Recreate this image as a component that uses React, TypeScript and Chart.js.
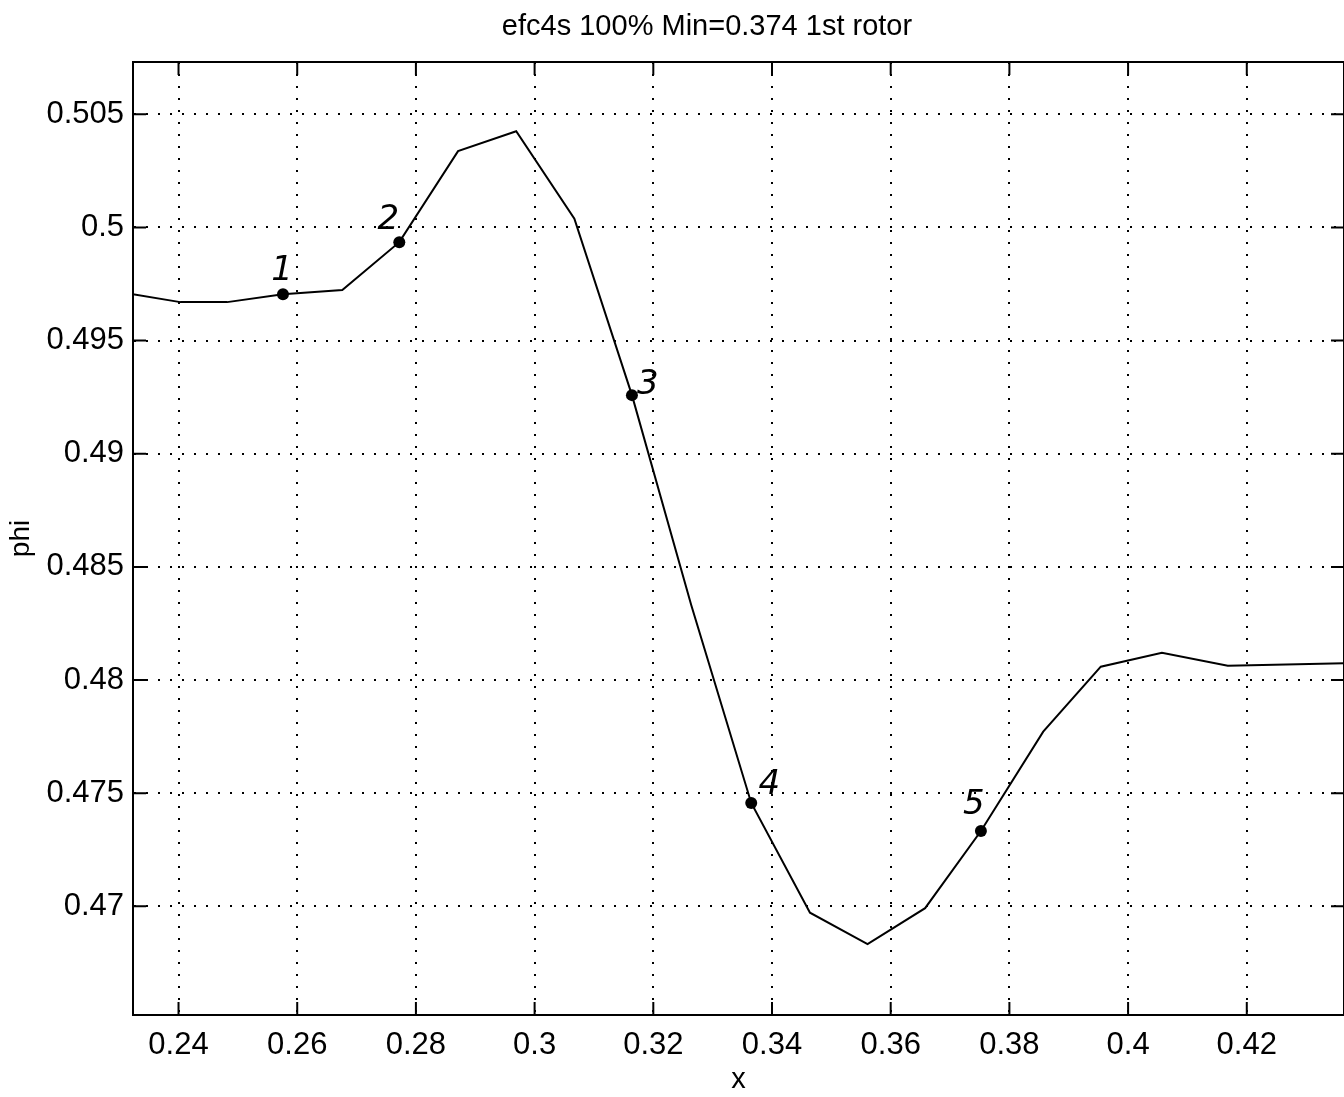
import { useEffect, useRef } from "react";
import { Chart, registerables } from "chart.js";

Chart.register(...registerables);

// ---- data ----
const xValues = [
  0.2323, 0.2403, 0.2482, 0.2576, 0.2676, 0.2772, 0.2871, 0.2969, 0.3067,
  0.3164, 0.3264, 0.3365, 0.3464, 0.3561, 0.3658, 0.3752, 0.3857, 0.3954,
  0.4057, 0.4168, 0.4364,
];
const phiValues = [
  0.49705, 0.4967, 0.4967, 0.49705, 0.49723, 0.49935, 0.50337, 0.50425,
  0.50039, 0.49259, 0.48331, 0.47457, 0.46972, 0.46833, 0.46992, 0.47333,
  0.47772, 0.48059, 0.48121, 0.48063, 0.48074,
];
const markerX = [0.2576, 0.2772, 0.3164, 0.3365, 0.3752];
const markerPhi = [0.49705, 0.49935, 0.49259, 0.47457, 0.47333];
const markerLabels = ["1", "2", "3", "4", "5"];

const xTickValues = [0.24, 0.26, 0.28, 0.3, 0.32, 0.34, 0.36, 0.38, 0.4, 0.42];
const xTickLabels = ["0.24", "0.26", "0.28", "0.3", "0.32", "0.34", "0.36", "0.38", "0.4", "0.42"];
const yTickValues = [0.47, 0.475, 0.48, 0.485, 0.49, 0.495, 0.5, 0.505];
const yTickLabels = ["0.47", "0.475", "0.48", "0.485", "0.49", "0.495", "0.5", "0.505"];

const xMin = 0.23233;
const xMax = 0.43638;
const yMin = 0.4652;
const yMax = 0.50731;

const titleText = "efc4s 100% Min=0.374 1st rotor";
const xAxisTitle = "x";
const yAxisTitle = "phi";

// ---- styling ----
const FONT = '"Liberation Sans", Arial, Helvetica, sans-serif';
const LABEL_OFFSETS: [number, number][] = [
  [-1, -23],
  [-11, -22],
  [16, -10],
  [18, -18],
  [-7, -26],
];
const TICK_LEN = 13;

function labelFor(values: number[], labels: string[], v: number): string {
  const i = values.findIndex((t) => Math.abs(t - v) < 1e-9);
  return i >= 0 ? labels[i] : "";
}

const framePlugin = {
  id: "matlabFrame",
  afterDraw(chart: any) {
    const { ctx, chartArea } = chart;
    const { left, right, top, bottom } = chartArea;
    const xs = chart.scales.x;
    const ys = chart.scales.y;
    ctx.save();
    ctx.strokeStyle = "#000";
    ctx.lineWidth = 2;
    ctx.setLineDash([]);
    ctx.beginPath();
    ctx.rect(left, top, right - left, bottom - top);
    ctx.stroke();
    ctx.beginPath();
    xTickValues.forEach((v) => {
      const px = xs.getPixelForValue(v);
      ctx.moveTo(px, bottom);
      ctx.lineTo(px, bottom - TICK_LEN);
      ctx.moveTo(px, top);
      ctx.lineTo(px, top + TICK_LEN);
    });
    yTickValues.forEach((v) => {
      const py = ys.getPixelForValue(v);
      ctx.moveTo(left, py);
      ctx.lineTo(left + TICK_LEN, py);
      ctx.moveTo(right, py);
      ctx.lineTo(right - TICK_LEN, py);
    });
    ctx.stroke();

    // title
    ctx.fillStyle = "#000";
    ctx.font = `29px ${FONT}`;
    ctx.textAlign = "center";
    ctx.textBaseline = "alphabetic";
    ctx.fillText(titleText, 707, 35);

    // point labels
    const meta = chart.getDatasetMeta(1);
    ctx.font = `italic 34px "DejaVu Sans", sans-serif`;
    ctx.textBaseline = "middle";
    meta.data.forEach((pt: any, i: number) => {
      const off = LABEL_OFFSETS[i] || [0, 0];
      ctx.fillText(markerLabels[i], pt.x + off[0], pt.y + off[1]);
    });
    ctx.restore();
  },
};

export default function App() {
  const ref = useRef<HTMLCanvasElement | null>(null);

  useEffect(() => {
    if (!ref.current) return;
    const chart = new Chart(ref.current, {
      type: "scatter",
      data: {
        datasets: [
          {
            data: xValues.map((x, i) => ({ x, y: phiValues[i] })),
            showLine: true,
            borderColor: "#000",
            borderWidth: 2,
            pointRadius: 0,
            tension: 0,
            fill: false,
          },
          {
            data: markerX.map((x, i) => ({ x, y: markerPhi[i] })),
            showLine: false,
            pointRadius: 6,
            pointBackgroundColor: "#000",
            pointBorderWidth: 0,
            backgroundColor: "#000",
          },
        ],
      },
      options: {
        animation: false,
        responsive: false,
        devicePixelRatio: 1,
        layout: { autoPadding: false, padding: { top: 62, right: 0, bottom: 0, left: 0 } },
        plugins: {
          legend: { display: false },
          tooltip: { enabled: false },
          title: { display: false },
        },
        scales: {
          x: {
            type: "linear",
            min: xMin,
            max: xMax,
            afterBuildTicks: (s: any) => {
              s.ticks = xTickValues.map((v) => ({ value: v }));
            },
            afterFit: (s: any) => {
              s.height = 82;
            },
            grid: { color: "#000", lineWidth: 2, drawTicks: false },
            border: { display: true, color: "#000", width: 2, dash: [2, 10] },
            ticks: {
              color: "#000",
              padding: 12,
              maxRotation: 0,
              autoSkip: false,
              font: { size: 31, family: FONT },
              callback: (v: any) => labelFor(xTickValues, xTickLabels, Number(v)),
            },
            title: {
              display: true,
              text: xAxisTitle,
              color: "#000",
              font: { size: 29, family: FONT },
              padding: { top: 0, bottom: 0 },
            },
          },
          y: {
            type: "linear",
            min: yMin,
            max: yMax,
            afterBuildTicks: (s: any) => {
              s.ticks = yTickValues.map((v) => ({ value: v }));
            },
            afterFit: (s: any) => {
              s.width = 133;
            },
            grid: { color: "#000", lineWidth: 2, drawTicks: false },
            border: { display: true, color: "#000", width: 2, dash: [2, 10] },
            ticks: {
              color: "#000",
              padding: 9,
              autoSkip: false,
              font: { size: 31, family: FONT },
              callback: (v: any) => labelFor(yTickValues, yTickLabels, Number(v)),
            },
            title: {
              display: true,
              text: yAxisTitle,
              color: "#000",
              font: { size: 28, family: FONT },
              padding: { top: 4, bottom: 0 },
            },
          },
        },
      },
      plugins: [framePlugin],
    } as any);
    return () => chart.destroy();
  }, []);

  return (
    <div style={{ position: "absolute", left: 0, top: 0, width: 1344, height: 1097, background: "#fff" }}>
      <canvas ref={ref} width={1344} height={1097} style={{ display: "block" }} />
    </div>
  );
}
